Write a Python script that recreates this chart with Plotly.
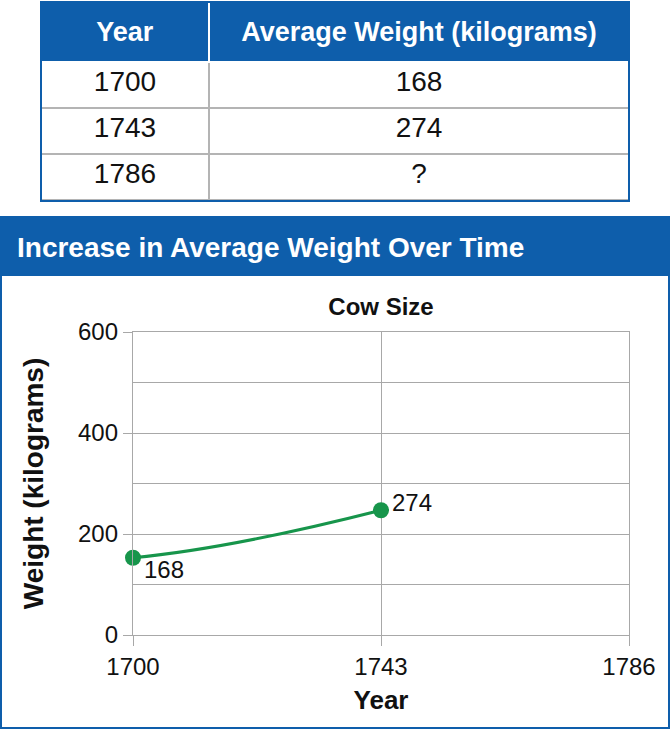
import plotly.graph_objects as go

W, H = 670, 732

# ---- data ----
table_headers = ["Year", "Average Weight (kilograms)"]
table_years = ["1700", "1743", "1786"]
table_weights = ["168", "274", "?"]

years = [1700, 1743]
weights = [153, 247]          # plotted positions
point_labels = ["168", "274"]  # labels as printed next to the points

x_ticks = [1700, 1743, 1786]
y_ticks = [0, 200, 400, 600]

panel_title = "Increase in Average Weight Over Time"
chart_title = "Cow Size"
x_title = "Year"
y_title = "Weight (kilograms)"

# ---- styles ----
BLUE = "#0e5eab"
GREEN = "#17954b"
GRID = "#a8a8a8"
TXT = "#111111"
FONT = "Liberation Sans, Arial, sans-serif"


def px(x):
    return x / W


def py(y):
    return 1 - y / H


fig = go.Figure()

# table
fig.add_trace(go.Table(
    domain=dict(x=[px(41), px(629)], y=[py(204), py(9)]),
    columnwidth=[168, 420],
    header=dict(
        values=[f"<b>{h}</b>" for h in table_headers],
        fill_color=BLUE,
        font=dict(color="white", size=27, family=FONT),
        height=53,
        align="center",
        line=dict(color="white", width=2),
    ),
    cells=dict(
        values=[table_years, table_weights],
        fill_color="white",
        font=dict(color=TXT, size=28, family=FONT),
        height=46,
        align="center",
        line=dict(color="#b4b4b4", width=1.5),
    ),
))
# top strip of the header (keeps header text vertically centred)
fig.add_shape(type="rect", xref="paper", yref="paper",
              x0=px(41), x1=px(629), y0=py(10), y1=py(2),
              fillcolor=BLUE, line=dict(width=0))
fig.add_shape(type="line", xref="paper", yref="paper",
              x0=px(209), x1=px(209), y0=py(10), y1=py(2),
              line=dict(color="white", width=2))

# curve connecting the points (quadratic bezier derived from the data)
x0, x1 = years
y0, y1 = weights
xc = x0 + 0.39 * (x1 - x0)
yc = y0 + 0.19 * (y1 - y0)
fig.add_shape(type="path", xref="x", yref="y",
              path=f"M {x0},{y0} Q {xc},{yc} {x1},{y1}",
              line=dict(color=GREEN, width=3), layer="between")

fig.add_trace(go.Scatter(
    x=years, y=weights, mode="markers",
    marker=dict(size=16, color=GREEN),
    cliponaxis=False, showlegend=False, hoverinfo="skip",
))

for xv, yv, lab, ys in zip(years, weights, point_labels, [-12, 8]):
    fig.add_annotation(x=xv, y=yv, xref="x", yref="y", text=lab,
                       showarrow=False, xanchor="left", yanchor="middle",
                       xshift=9, yshift=ys,
                       font=dict(size=24, color=TXT, family=FONT))

# panel header bar and border
fig.add_shape(type="rect", xref="paper", yref="paper",
              x0=px(0), x1=px(670), y0=py(276), y1=py(217),
              fillcolor=BLUE, line=dict(width=0), layer="below")
fig.add_shape(type="rect", xref="paper", yref="paper",
              x0=px(1), x1=px(669), y0=py(728), y1=py(217),
              line=dict(color=BLUE, width=2), fillcolor="rgba(0,0,0,0)")
# table outer border
fig.add_shape(type="rect", xref="paper", yref="paper",
              x0=px(41), x1=px(629), y0=py(201), y1=py(2),
              line=dict(color=BLUE, width=2), fillcolor="rgba(0,0,0,0)")

fig.add_annotation(xref="paper", yref="paper", x=px(15), y=py(248),
                   text=f"<b>{panel_title}</b>", showarrow=False,
                   xanchor="left", yanchor="middle",
                   font=dict(size=28, color="white", family=FONT))

fig.update_layout(
    width=W, height=H,
    margin=dict(l=0, r=0, t=0, b=0),
    paper_bgcolor="white", plot_bgcolor="white",
    font=dict(family=FONT, color=TXT),
    showlegend=False,
    title=dict(text=f"<b>{chart_title}</b>", x=px(381), y=py(307),
               xanchor="center", yanchor="middle", xref="paper", yref="paper",
               font=dict(size=24, color=TXT, family=FONT)),
)

fig.update_xaxes(
    range=[1700, 1786], domain=[px(133), px(629)],
    tickmode="array", tickvals=x_ticks, ticktext=[str(v) for v in x_ticks],
    showgrid=True, gridcolor=GRID, gridwidth=1.3,
    showline=True, mirror=True, linecolor=GRID, linewidth=1.3,
    ticks="outside", ticklen=10, tickcolor=GRID, tickwidth=1.3,
    tickfont=dict(size=24, color=TXT, family=FONT),
    title=dict(text=f"<b>{x_title}</b>", font=dict(size=26, color=TXT, family=FONT), standoff=11),
    zeroline=False, automargin=False,
)
fig.update_yaxes(
    range=[0, 600], domain=[py(635), py(332)],
    tickmode="array", tickvals=y_ticks, ticktext=[str(v) for v in y_ticks],
    showgrid=True, gridcolor=GRID, gridwidth=1.3,
    minor=dict(tickmode="linear", tick0=0, dtick=100, showgrid=True,
               gridcolor=GRID, gridwidth=1.3, ticks=""),
    showline=True, mirror=True, linecolor=GRID, linewidth=1.3,
    ticks="outside", ticklen=9, tickcolor=GRID, tickwidth=1.3,
    tickfont=dict(size=24, color=TXT, family=FONT),
    title=dict(text=f"<b>{y_title}</b>", font=dict(size=28, color=TXT, family=FONT), standoff=26),
    zeroline=False, automargin=False,
)

fig.write_html("out.html", config={"displayModeBar": False},
               post_script="document.body.style.margin='0';")
